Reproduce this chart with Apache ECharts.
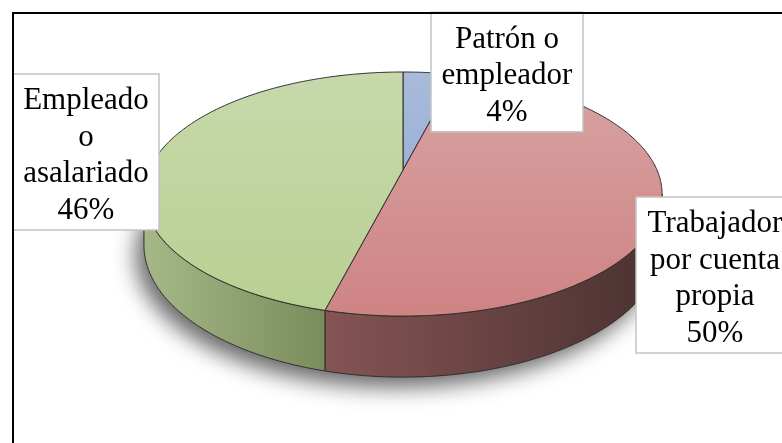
<!DOCTYPE html>
<html>
<head>
<meta charset="utf-8">
<script src="https://cdn.jsdelivr.net/npm/echarts@6/dist/echarts.min.js"></script>
<style>
  html, body { margin: 0; padding: 0; background: #fff; }
  #chart { width: 782px; height: 443px; }
</style>
</head>
<body>
<div id="chart"></div>
<script>
// data
const categories = ['Patrón o empleador', 'Trabajador por cuenta propia', 'Empleado o asalariado'];
const values = [4, 50, 46];
const labelNames = ['Patrón o\nempleador', 'Trabajador\npor cuenta\npropia', 'Empleado\no\nasalariado'];

// look
const topColors = [['#a8bbdb', '#8aa2cd'], ['#d8a3a3', '#cf8383'], ['#c7d9ab', '#b8cf91']];
const sideColors = [['#8ea4c8', '#5d7399'], ['#855454', '#4a3131'], ['#a6b888', '#7a8c5b']];
const labelBoxes = [[507, 72, 152], [715, 275, 158], [86, 152, 146]]; // center x, center y, width
const lineH = 36.5;

// projection of the tilted disc (slight perspective like the Excel 3D pie)
const cx = 403, cy = 170, B = 254, A = 117.3, k = 0.197, T = 49;
function proj(phi, r, z) {
  const s = Math.sin(phi), c = Math.cos(phi);
  const den = 1 + k * r * c;
  return [cx + B * r * s / den, cy - A * r * c / den + z * T / den];
}
function arc(a, b, z) {
  const pts = [];
  const n = Math.max(2, Math.ceil(Math.abs(b - a) / 0.01));
  for (let i = 0; i <= n; i++) pts.push(proj(a + (b - a) * i / n, 1, z));
  return pts;
}

const total = values.reduce((s, v) => s + v, 0);
const starts = [];
values.reduce((acc, v, i) => { starts[i] = acc; return acc + v; }, 0);
const toRad = (v) => v / total * Math.PI * 2;
const phiR = Math.acos(-k), phiL = Math.PI * 2 - phiR;
const edge = '#2e2e2e';

function renderSide(params, api) {
  const i = params.dataIndex;
  const a = toRad(starts[i]), b = toRad(starts[i] + api.value(0));
  const children = [];
  if (i === 0) {
    children.push({
      type: 'polygon', z2: -1,
      shape: { points: arc(0, Math.PI * 2, 1) },
      style: { fill: '#999', shadowBlur: 22, shadowOffsetX: -8, shadowOffsetY: 10, shadowColor: 'rgba(0,0,0,0.6)' }
    });
  }
  const a2 = Math.max(a, phiR), b2 = Math.min(b, phiL);
  if (a2 < b2) {
    const pts = arc(a2, b2, 0).concat(arc(b2, a2, 1));
    children.push({
      type: 'polygon', z2: 1,
      shape: { points: pts },
      style: {
        fill: new echarts.graphic.LinearGradient(0, 0, 1, 0, [
          { offset: 0, color: sideColors[i][0] },
          { offset: 1, color: sideColors[i][1] }
        ]),
        stroke: edge, lineWidth: 1
      }
    });
  }
  return { type: 'group', children: children };
}

function renderTop(params, api) {
  const i = params.dataIndex;
  const v = api.value(0);
  const a = toRad(starts[i]), b = toRad(starts[i] + v);
  const pts = [proj(0, 0, 0)].concat(arc(a, b, 0));
  const box = labelBoxes[i];
  const text = labelNames[i] + '\n' + Math.round(v / total * 100) + '%';
  const h = text.split('\n').length * lineH + 10;
  return {
    type: 'group',
    children: [
      {
        type: 'polygon', z2: 2,
        shape: { points: pts },
        style: {
          fill: new echarts.graphic.LinearGradient(0, 72, 0, 318, [
            { offset: 0, color: topColors[i][0] },
            { offset: 1, color: topColors[i][1] }
          ], true),
          stroke: edge, lineWidth: 1
        }
      },
      {
        type: 'rect', z2: 9,
        shape: { x: box[0] - box[2] / 2, y: box[1] - h / 2, width: box[2], height: h },
        style: { fill: '#fff', stroke: '#c4c4c4', lineWidth: 1.5 }
      },
      {
        type: 'text', z2: 10,
        style: {
          x: box[0], y: box[1] + 4,
          text: text,
          fill: '#000',
          font: '31px "Liberation Serif", "Times New Roman", serif',
          align: 'center', verticalAlign: 'middle',
          lineHeight: lineH
        }
      }
    ]
  };
}

const seriesData = values.map((v, i) => ({ name: categories[i], value: v }));

const chart = echarts.init(document.getElementById('chart'));
chart.setOption({
  animation: false,
  backgroundColor: '#fff',
  graphic: [{
    type: 'rect', z: 100,
    shape: { x: 13, y: 13, width: 820, height: 480 },
    style: { fill: 'none', stroke: '#000', lineWidth: 2 }
  }],
  series: [
    { type: 'custom', name: 'side', coordinateSystem: 'none', z: 1, renderItem: renderSide, data: seriesData },
    { type: 'custom', name: 'top', coordinateSystem: 'none', z: 2, renderItem: renderTop, data: seriesData }
  ]
});
</script>
</body>
</html>
